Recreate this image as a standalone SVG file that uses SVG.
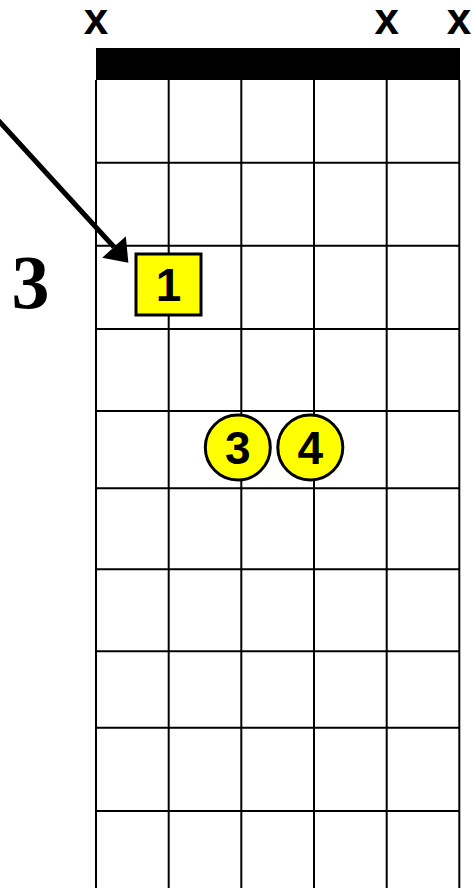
<svg xmlns="http://www.w3.org/2000/svg" width="472" height="888" viewBox="0 0 472 888">
  <style>
    .grid line { stroke: #000; stroke-width: 2; }
    .mute { font-family: "Liberation Sans", Arial, sans-serif; font-weight: bold; font-size: 44px; text-anchor: middle; fill: #000; }
    .fret { font-family: "Liberation Serif", "Times New Roman", serif; font-weight: bold; font-size: 76px; text-anchor: middle; fill: #000; }
    .finger { fill: #ffff00; stroke: #000; stroke-width: 3; }
    .fnum { font-family: "Liberation Sans", Arial, sans-serif; font-weight: bold; font-size: 46px; text-anchor: middle; fill: #000; }
  </style>
  <defs>
    <marker id="arrowhead" markerUnits="userSpaceOnUse" markerWidth="30" markerHeight="32" viewBox="0 0 20 30" refX="0" refY="15" orient="auto">
      <path d="M0,0 L20,15 L0,30 Z" fill="#000"/>
    </marker>
  </defs>
  <rect width="472" height="888" fill="#fff"/>

  <g id="nut">
    <rect x="96" y="48" width="364" height="32" fill="#000"/>
  </g>

  <g id="grid" class="grid">
    <line x1="96" y1="80" x2="96" y2="888"/>
    <line x1="168.7" y1="80" x2="168.7" y2="888"/>
    <line x1="241.3" y1="80" x2="241.3" y2="888"/>
    <line x1="314" y1="80" x2="314" y2="888"/>
    <line x1="386.7" y1="80" x2="386.7" y2="888"/>
    <line x1="459.3" y1="80" x2="459.3" y2="888"/>
    <line x1="96" y1="162.7" x2="460" y2="162.7"/>
    <line x1="96" y1="245.7" x2="460" y2="245.7"/>
    <line x1="96" y1="329" x2="460" y2="329"/>
    <line x1="96" y1="411" x2="460" y2="411"/>
    <line x1="96" y1="488.3" x2="460" y2="488.3"/>
    <line x1="96" y1="569.3" x2="460" y2="569.3"/>
    <line x1="96" y1="651.3" x2="460" y2="651.3"/>
    <line x1="96" y1="727.7" x2="460" y2="727.7"/>
    <line x1="96" y1="811" x2="460" y2="811"/>
  </g>

  <g id="mutes">
    <text class="mute" x="96" y="34">x</text>
    <text class="mute" x="386.7" y="34">x</text>
    <text class="mute" x="459" y="34">x</text>
  </g>

  <g id="fret-label">
    <text class="fret" x="30.5" y="308">3</text>
  </g>

  <g id="connectors">
    <line x1="-2" y1="120" x2="114" y2="247" stroke="#000" stroke-width="5" marker-end="url(#arrowhead)"/>
  </g>

  <g id="finger-1">
    <rect class="finger" x="136" y="254" width="65" height="61"/>
    <text class="fnum" x="168.5" y="301">1</text>
  </g>

  <g id="finger-3">
    <circle class="finger" cx="237.8" cy="447.5" r="32.5"/>
    <text class="fnum" x="237.8" y="464">3</text>
  </g>

  <g id="finger-4">
    <circle class="finger" cx="310.3" cy="447.5" r="32.5"/>
    <text class="fnum" x="310.3" y="464">4</text>
  </g>
</svg>
